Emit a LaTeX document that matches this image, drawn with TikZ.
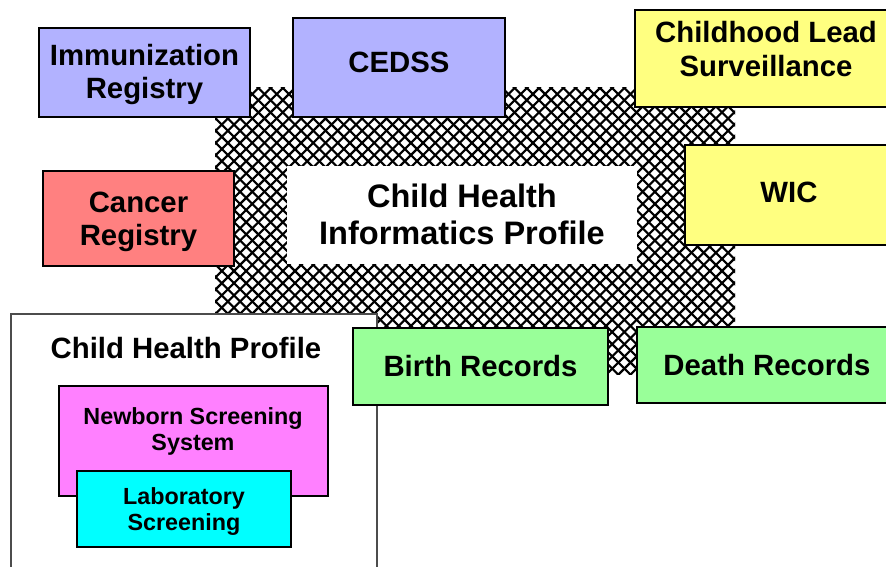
\documentclass[tikz,border=0pt]{standalone}
\usepackage{fontspec}
\setmainfont{Liberation Sans}
\definecolor{lav}{RGB}{178,178,255}
\definecolor{salmon}{RGB}{255,128,128}
\definecolor{yel}{RGB}{255,255,128}
\definecolor{grn}{RGB}{153,255,153}
\definecolor{mag}{RGB}{255,128,255}
\definecolor{cyn}{RGB}{0,255,255}
\newcommand{\twolines}[3]{\raisebox{#1}[\height][\depth]{\begin{tabular}{@{}c@{}}#2\\#3\end{tabular}}}
\newcommand{\shiftup}[2]{\raisebox{#1}[\height][\depth]{#2}}
\begin{document}
\begin{tikzpicture}[x=0.75pt,y=-0.75pt,
  box/.style={draw=black, line width=1.5pt, inner sep=0pt, align=center},
  big/.style={font=\bfseries\fontsize{22}{25}\selectfont},
  small/.style={font=\bfseries\fontsize{17.5}{19.5}\selectfont},
  sz/.style 2 args={minimum width=#1*0.75pt, minimum height=#2*0.75pt},
  hatchline/.style={line width=1.6pt, black}]
\clip (0,0) rectangle (886,567);
\fill[white] (0,0) rectangle (886,567);
% hatched background
\begin{scope}
\clip (215,88) rectangle (735,374);
\foreach \c in {-220,-207.8,...,760} \draw[hatchline] (\c,0) -- (\c+420,420);
\foreach \c in {200,212.2,...,1180} \draw[hatchline] (\c,0) -- (\c-420,420);
\end{scope}
% central white panel
\node[fill=white, inner sep=0pt, sz={350}{98}, align=center,
  font=\bfseries\fontsize{24.4}{27.7}\selectfont] (chip) at (462,214.5)
  {Child Health\\Informatics Profile};
% Child Health Profile container
\node[draw=black!70, line width=1pt, fill=white, inner sep=0pt, sz={366}{270}] (chp) at (194,449) {};
\node[big, inner sep=0pt] (chpt) at (186,348) {Child Health Profile};
\node[box, fill=mag, sz={269}{110}] (nss) at (193.5,441) {};
\node[small, align=center, inner sep=0pt] (nsst) at (193,431.5) {Newborn Screening\\System};
\node[box, fill=cyn, small, sz={214}{76}] (lab) at (184,509) {\twolines{-2.3pt}{Laboratory}{Screening}};
% surrounding boxes
\node[box, fill=lav, big, sz={211}{89}] (imm) at (144.5,72.5) {\twolines{-2.3pt}{Immunization}{Registry}};
\node[box, fill=lav, big, sz={212}{99}] (cedss) at (399,67.5) {\shiftup{3.5pt}{CEDSS}};
\node[box, fill=yel, sz={262}{97}] (lead) at (766,58.5) {};
\node[big, align=center, inner sep=0pt] (leadt) at (766,49) {Childhood Lead\\Surveillance};
\node[box, fill=yel, big, sz={208}{100}] (wic) at (789,195) {\shiftup{2pt}{WIC}};
\node[box, fill=salmon, big, sz={191}{95}] (cancer) at (138.5,218.5) {\twolines{-3pt}{Cancer}{Registry}};
\node[box, fill=grn, big, sz={255}{77}] (birth) at (480.5,366.5) {Birth Records};
\node[box, fill=grn, big, sz={260}{76}] (death) at (767,365) {Death Records};
\end{tikzpicture}
\end{document}
